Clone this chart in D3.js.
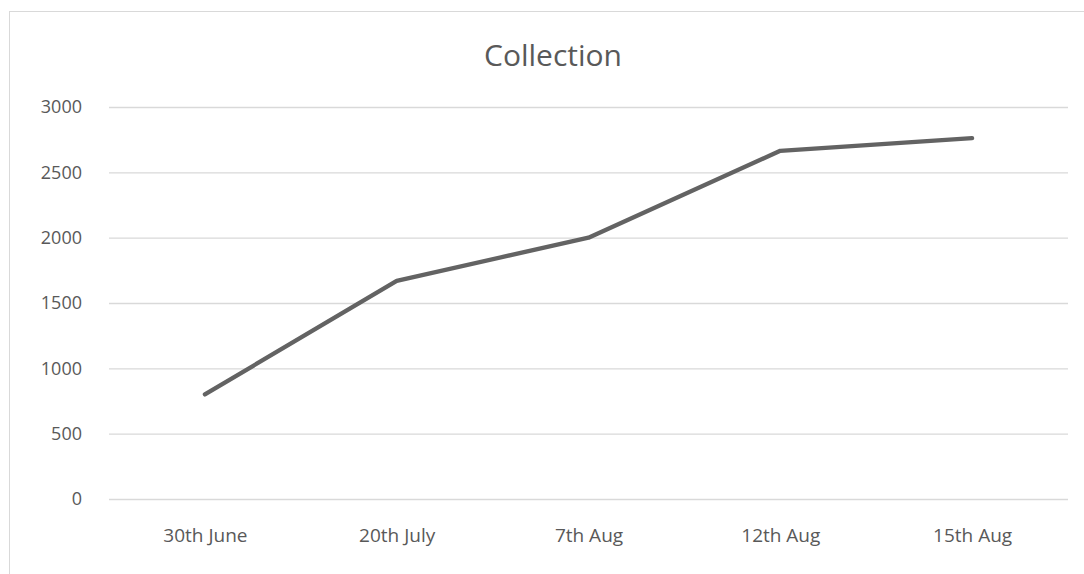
<!DOCTYPE html>
<html>
<head>
<meta charset="utf-8">
<script src="https://cdn.jsdelivr.net/npm/d3@7"></script>
<style>
  body { margin: 0; background: #fff; }
  text { font-family: "Open Sans", "Noto Sans", sans-serif; }
</style>
</head>
<body>
<div id="chart-area"></div>
<script>
// data
var categories = ["30th June", "20th July", "7th Aug", "12th Aug", "15th Aug"];
var collection = [800, 1670, 2000, 2665, 2762];
var yTicks = [0, 500, 1000, 1500, 2000, 2500, 3000];

var W = 1084, H = 574;
var margin = {top: 107, right: 16, bottom: 75, left: 109};
var width = 1068 - margin.left;
var height = 499 - margin.top;

var svg = d3.select("#chart-area")
    .append("svg")
        .attr("width", W)
        .attr("height", H);

// outer chart frame
svg.append("rect")
    .attr("x", 9.5)
    .attr("y", 11.5)
    .attr("width", W)
    .attr("height", H)
    .attr("fill", "none")
    .attr("stroke", "#d9d9d9");

svg.append("text")
    .attr("x", 553)
    .attr("y", 66)
    .attr("text-anchor", "middle")
    .attr("font-size", "30px")
    .attr("fill", "#595959")
    .text("Collection");

var g = svg.append("g")
    .attr("transform", "translate(" + margin.left + ", " + margin.top + ")");

var x = d3.scalePoint()
    .domain(categories)
    .range([0, width])
    .padding(0.5);

var y = d3.scaleLinear()
    .domain([0, 3000])
    .range([height, 0]);

// gridlines
var yAxis = d3.axisLeft(y)
    .tickValues(yTicks)
    .tickFormat(d3.format("d"))
    .tickSize(-width)
    .tickPadding(27);

g.append("g")
    .attr("class", "y axis")
    .call(yAxis)
    .call(function(a) {
        a.select(".domain").remove();
        a.selectAll(".tick line").attr("stroke", "#d9d9d9").attr("stroke-width", 1.3);
        a.selectAll(".tick text")
            .attr("font-size", "18px")
            .attr("fill", "#595959")
            .attr("font-family", "'Open Sans', sans-serif");
    });

var xAxis = d3.axisBottom(x).tickSize(0).tickPadding(30);

g.append("g")
    .attr("class", "x axis")
    .attr("transform", "translate(0, " + height + ")")
    .call(xAxis)
    .call(function(a) {
        a.select(".domain").remove();
        a.selectAll(".tick text")
            .attr("font-size", "19px")
            .attr("fill", "#595959")
            .attr("font-family", "'Open Sans', sans-serif");
    });

var line = d3.line()
    .x(function(d, i) { return x(categories[i]); })
    .y(function(d) { return y(d); });

g.append("path")
    .datum(collection)
    .attr("d", line)
    .attr("fill", "none")
    .attr("stroke", "#636363")
    .attr("stroke-width", 4.3)
    .attr("stroke-linejoin", "round")
    .attr("stroke-linecap", "round");
</script>
</body>
</html>
